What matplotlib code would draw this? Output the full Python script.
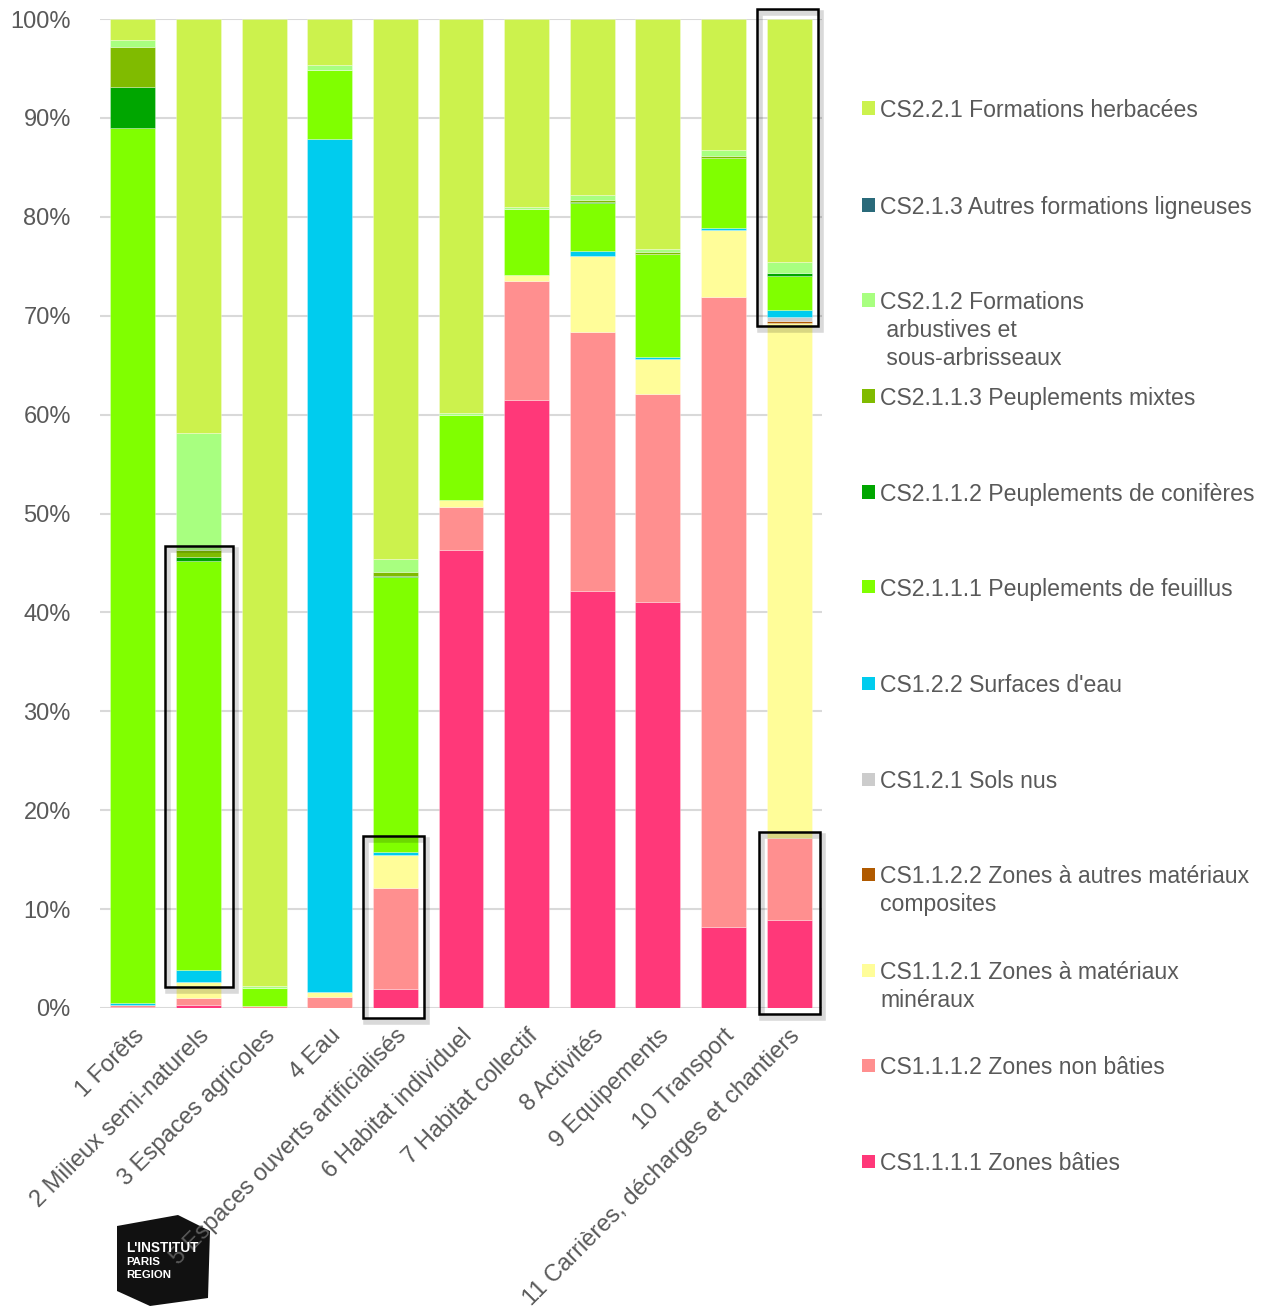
import matplotlib
matplotlib.use("Agg")
import matplotlib.pyplot as plt
from matplotlib.patches import Rectangle, Polygon
import numpy as np

plt.rcParams['font.family'] = ['Liberation Sans', 'DejaVu Sans']

categories = ["1 Forêts", "2 Milieux semi-naturels", "3 Espaces agricoles", "4 Eau",
              "5 Espaces ouverts artificialisés", "6 Habitat individuel", "7 Habitat collectif",
              "8 Activités", "9 Equipements", "10 Transport", "11 Carrières, décharges et chantiers"]

batis       = [0.1, 0.3, 0.0, 0.0, 1.9, 46.3, 61.5, 42.2, 41.1, 8.2, 8.9]
non_batis   = [0.2, 0.7, 0.2, 1.1, 10.2, 4.4, 12.0, 26.2, 21.0, 63.7, 8.3]
mineraux    = [0.0, 1.6, 0.0, 0.5, 3.4, 0.7, 0.6, 7.6, 3.5, 6.8, 52.1]
autres_mat  = [0.0, 0.0, 0.0, 0.0, 0.0, 0.0, 0.0, 0.0, 0.0, 0.0, 0.2]
sols_nus    = [0.0, 0.0, 0.0, 0.0, 0.0, 0.0, 0.0, 0.0, 0.0, 0.0, 0.4]
eau         = [0.2, 1.2, 0.0, 86.3, 0.3, 0.0, 0.0, 0.5, 0.2, 0.2, 0.7]
feuillus    = [88.5, 41.4, 1.8, 6.9, 27.8, 8.6, 6.7, 4.9, 10.4, 7.0, 3.4]
coniferes   = [4.1, 0.4, 0.0, 0.0, 0.1, 0.0, 0.0, 0.1, 0.0, 0.0, 0.3]
mixtes      = [4.1, 0.7, 0.0, 0.0, 0.4, 0.0, 0.0, 0.2, 0.2, 0.2, 0.0]
arbustives  = [0.7, 11.8, 0.2, 0.5, 1.3, 0.2, 0.2, 0.5, 0.3, 0.7, 1.1]
ligneuses   = [0.0, 0.0, 0.0, 0.0, 0.0, 0.0, 0.0, 0.0, 0.0, 0.0, 0.0]
herbacees   = [2.1, 41.9, 97.8, 4.7, 54.6, 39.8, 19.0, 17.8, 23.3, 13.2, 24.6]

series = [batis, non_batis, mineraux, autres_mat, sols_nus, eau, feuillus,
          coniferes, mixtes, arbustives, ligneuses, herbacees]
colors = ["#FF3879", "#FF8F8F", "#FFFD99", "#B05A00", "#CCCCCC", "#00CCEE",
          "#80FF00", "#00A600", "#80BB00", "#A8FF80", "#2A6A7A", "#CCF24D"]

W, H = 1272, 1308
fig = plt.figure(figsize=(W / 100, H / 100), dpi=100)
ax = fig.add_axes([100 / W, 300 / H, 722 / W, 989 / H])

x = np.arange(len(categories))
bottom = np.zeros(len(categories))
for vals, col in zip(series, colors):
    v = np.array(vals)
    ax.bar(x, v, width=0.685, bottom=bottom, color=col, edgecolor=(1, 1, 1, 0.5),
           linewidth=0.4, zorder=2)
    bottom += v

ax.set_xlim(-0.5, 10.5)
ax.set_ylim(0, 100)
ax.set_yticks(np.arange(0, 101, 10))
ax.set_yticklabels([f"{v}%" for v in range(0, 101, 10)])
ax.yaxis.grid(True, color="#D9D9D9", linewidth=1.5, zorder=0)
ax.set_axisbelow(True)
for s in ax.spines.values():
    s.set_visible(False)
ax.tick_params(axis='y', length=0, pad=21, labelsize=17, labelcolor="#595959")
ax.set_xticks(x)
ax.set_xticklabels(categories, rotation=45, ha='right', rotation_mode='anchor',
                   fontsize=17, color="#595959")
ax.tick_params(axis='x', length=0, pad=12)

# annotation boxes
boxes = [(0.49, 2.1, 1.036, 44.6), (3.506, -1.0, 0.93, 18.4),
         (9.508, 69.0, 0.93, 32.0), (9.538, -0.6, 0.93, 18.4)]
for (bx, by, bw, bh) in boxes:
    sh = Rectangle((bx + 0.05, by - 0.4), bw, bh, fill=False, edgecolor=(0, 0, 0, 0.15),
                   linewidth=4, clip_on=False, zorder=4)
    ax.add_patch(sh)
    r = Rectangle((bx, by), bw, bh, fill=False, edgecolor="black", linewidth=1.8,
                  clip_on=False, zorder=5)
    ax.add_patch(r)

# legend (manual)
leg_items = [
    ("CS2.2.1 Formations herbacées", 11, 108),
    ("CS2.1.3 Autres formations ligneuses", 10, 205),
    ("CS2.1.2 Formations\n arbustives et\n sous-arbrisseaux", 9, 300),
    ("CS2.1.1.3 Peuplements mixtes", 8, 396),
    ("CS2.1.1.2 Peuplements de conifères", 7, 492),
    ("CS2.1.1.1 Peuplements de feuillus", 6, 587),
    ("CS1.2.2 Surfaces d'eau", 5, 683),
    ("CS1.2.1 Sols nus", 4, 779),
    ("CS1.1.2.2 Zones à autres matériaux\ncomposites", 3, 874),
    ("CS1.1.2.1 Zones à matériaux\nminéraux", 2, 970),
    ("CS1.1.1.2 Zones non bâties", 1, 1065),
    ("CS1.1.1.1 Zones bâties", 0, 1161),
]
for label, ci, ypx in leg_items:
    fig.patches.append(Rectangle((862 / W, (H - ypx - 6.5) / H), 13 / W, 13 / H,
                                 transform=fig.transFigure, facecolor=colors[ci],
                                 edgecolor='none'))
    for i, line in enumerate(label.split("\n")):
        fig.text(880 / W, (H - (ypx + i * 28)) / H, line, fontsize=16.6, color="#595959",
                 ha='left', va='center_baseline')

# logo (drawn beneath the axes so the tick label shows over it)
pts = [(117, 1226), (178, 1215), (210, 1231), (208, 1298), (150, 1306), (117, 1291)]
logo = Polygon([(px / W, (H - py) / H) for px, py in pts], closed=True,
               transform=fig.transFigure, facecolor="#111111", edgecolor='none', zorder=-1)
fig.patches.append(logo)
fig.text(126 / W, (H - 1248) / H, "L'INSTITUT", fontsize=9.8, color="white",
         fontweight='bold', va='center')
fig.text(126 / W, (H - 1262) / H, "PARIS", fontsize=8.2, color="white",
         fontweight='bold', va='center')
fig.text(126 / W, (H - 1275) / H, "REGION", fontsize=8.2, color="white",
         fontweight='bold', va='center')

fig.savefig("out.png", dpi=100)
